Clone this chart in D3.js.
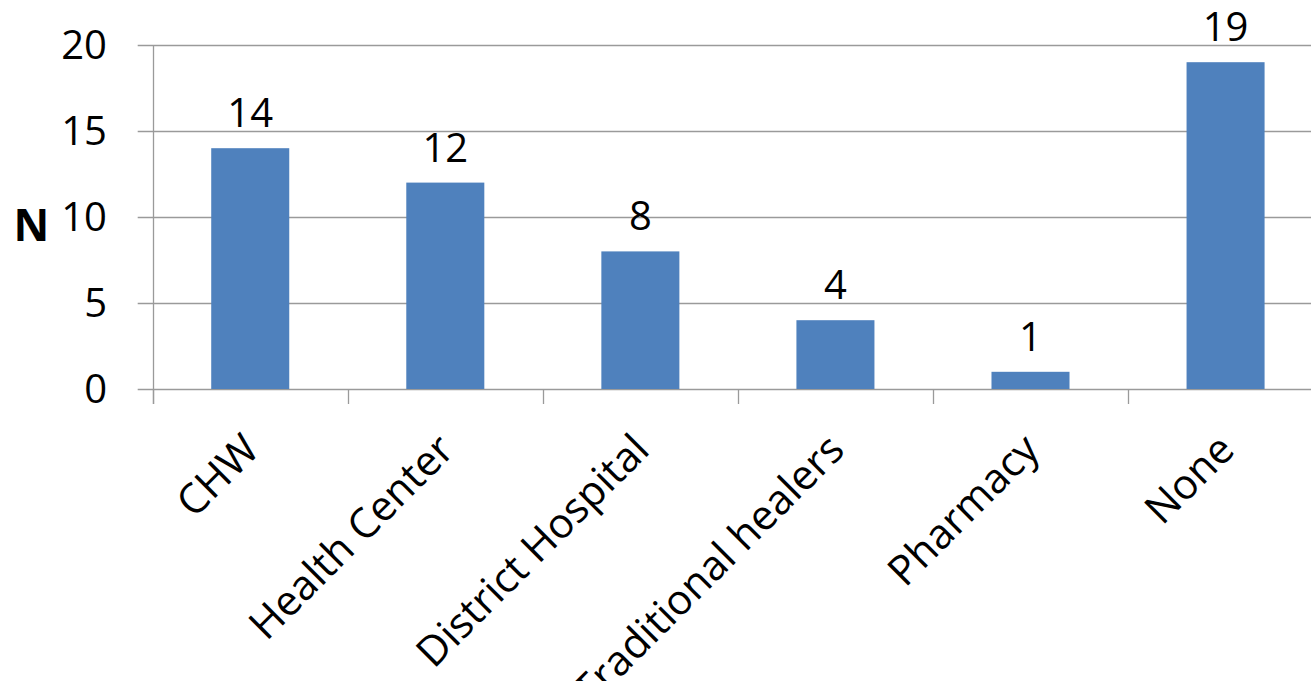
<!DOCTYPE html>
<html>
<head>
<meta charset="utf-8">
<script src="https://cdn.jsdelivr.net/npm/d3@7"></script>
<style>
  html, body { margin: 0; padding: 0; background: #fff; }
  svg { display: block; }
</style>
</head>
<body>
<svg id="chart" width="1311" height="681"></svg>
<script>
const categories = ["CHW", "Health Center", "District Hospital", "Traditional healers", "Pharmacy", "None"];
const values = [14, 12, 8, 4, 1, 19];
const yTicks = [0, 5, 10, 15, 20];
const yLabel = "N";

const svg = d3.select("#chart");
const W = 1311, H = 681;
const x0 = 152.7, x1 = 1323.1, yTop = 45, yBot = 389;
const font = "'Open Sans', sans-serif";

const x = d3.scaleBand().domain(categories).range([x0, x1]).paddingInner(0.6).paddingOuter(0.3);
const y = d3.scaleLinear().domain([0, 20]).range([yBot, yTop]);

// gridlines + y-axis ticks
const grid = svg.append("g");
grid.selectAll("line").data(yTicks).join("line")
  .attr("x1", x0 - 15).attr("x2", W)
  .attr("y1", d => Math.round(y(d)) + 0.5).attr("y2", d => Math.round(y(d)) + 0.5)
  .attr("stroke", "#9a9a9a").attr("stroke-width", 1.3);

// y-axis line
svg.append("line")
  .attr("x1", Math.round(x0) + 0.5).attr("x2", Math.round(x0) + 0.5)
  .attr("y1", yTop).attr("y2", yBot + 15)
  .attr("stroke", "#9a9a9a").attr("stroke-width", 1.3);

// category tick marks at band boundaries
const step = x.step();
const boundaries = categories.map((c, i) => x0 + i * step);
svg.append("g").selectAll("line").data(boundaries).join("line")
  .attr("x1", d => Math.round(d) + 0.5).attr("x2", d => Math.round(d) + 0.5)
  .attr("y1", yBot).attr("y2", yBot + 15)
  .attr("stroke", "#9a9a9a").attr("stroke-width", 1.3);

// y tick labels
svg.append("g").selectAll("text").data(yTicks).join("text")
  .attr("x", 107).attr("y", d => y(d))
  .attr("dy", "0.36em")
  .attr("text-anchor", "end")
  .attr("font-family", font).attr("font-size", 40).attr("fill", "#000")
  .text(d => d);

// bars
svg.append("g").selectAll("rect").data(values).join("rect")
  .attr("x", (d, i) => x(categories[i]))
  .attr("width", x.bandwidth())
  .attr("y", d => y(d))
  .attr("height", d => yBot - y(d))
  .attr("fill", "#4f81bd");

// value labels
svg.append("g").selectAll("text").data(values).join("text")
  .attr("x", (d, i) => x(categories[i]) + x.bandwidth() / 2)
  .attr("y", d => y(d) - 21)
  .attr("text-anchor", "middle")
  .attr("font-family", font).attr("font-size", 40).attr("fill", "#000")
  .text(d => d);

// category labels rotated
svg.append("g").selectAll("text").data(categories).join("text")
  .attr("transform", d => `translate(${x(d) + x.bandwidth() / 2 + 11},452) rotate(-45)`)
  .attr("text-anchor", "end")
  .attr("font-family", font).attr("font-size", 41.5).attr("fill", "#000")
  .text(d => d);

// y axis title
svg.append("text")
  .attr("x", 31.5).attr("y", 241)
  .attr("text-anchor", "middle")
  .attr("font-family", font).attr("font-size", 44).attr("font-weight", "bold").attr("fill", "#000")
  .text(yLabel);
</script>
</body>
</html>
